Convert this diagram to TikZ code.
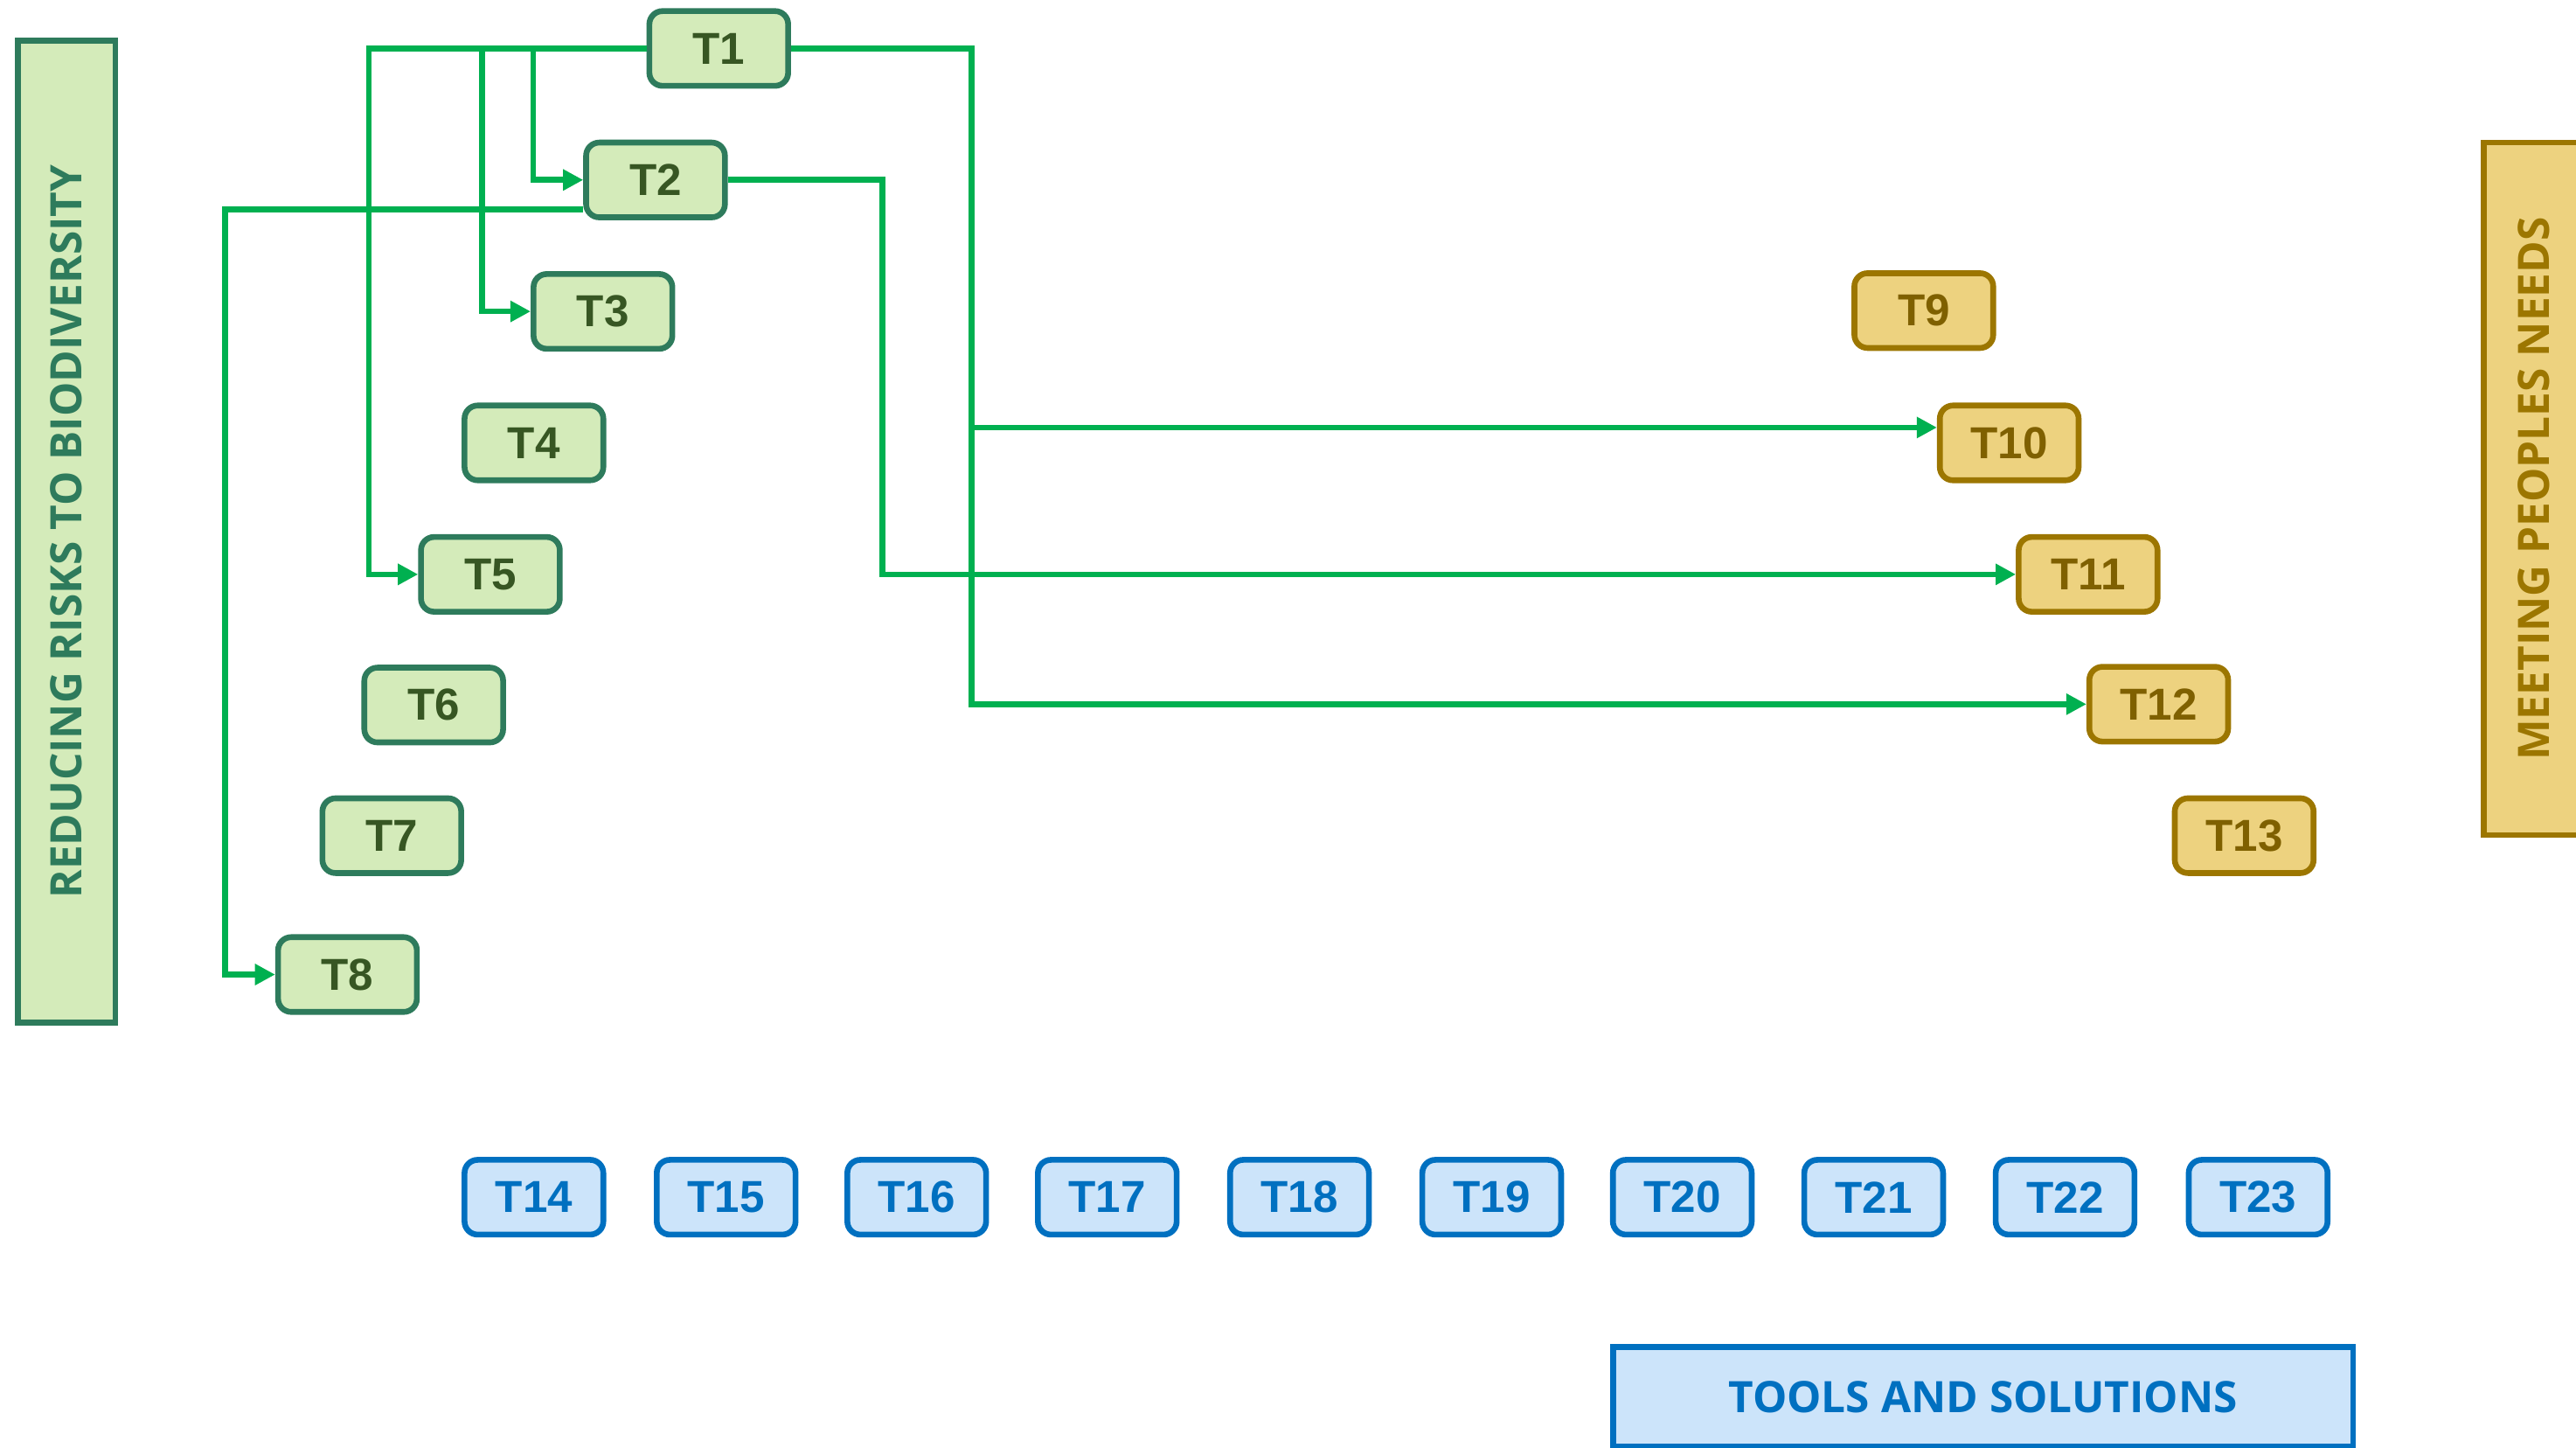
\documentclass[tikz,border=0pt]{standalone}
\usepackage{fontspec}
\setmainfont{Liberation Sans}
\newfontfamily\barfont{Open Sans}
\usetikzlibrary{arrows.meta}

\definecolor{gfill}{HTML}{D4EBBA}
\definecolor{gline}{HTML}{2E7B5C}
\definecolor{gtext}{HTML}{375623}
\definecolor{yfill}{HTML}{EDD27F}
\definecolor{yline}{HTML}{9C7600}
\definecolor{ytext}{HTML}{7F6000}
\definecolor{bfill}{HTML}{CCE4FA}
\definecolor{bline}{HTML}{0070C0}
\definecolor{linkgreen}{HTML}{00B050}

\begin{document}
\begin{tikzpicture}[x=0.02cm,y=-0.02cm,>={Triangle[length=7pt,width=7pt]},
	every node/.style={shape=rectangle,draw,line width=2pt,font=\fontsize{15.5}{18}\selectfont\bfseries},
	target/.style={rounded corners=0.16cm,minimum width=1.69cm,minimum height=0.91cm,inner sep=0pt},
	riskbox/.style={target,fill=gfill,draw=gline,text=gtext},
	needbox/.style={target,fill=yfill,draw=yline,text=ytext},
	toolbox/.style={target,fill=bfill,draw=bline,text=bline},
	theme/.style={font=\barfont\fontsize{15}{18}\selectfont\bfseries,inner sep=0pt},
	link/.style={->,draw=linkgreen,line width=2pt},]
	\useasboundingbox (0,0) rectangle (1568,881);

	% create the nodes
	\node (risks)[theme, rotate=90, fill=gfill, draw=gline, text=gline, minimum width=11.95cm, minimum height=1.19cm] at (40.5,323.5) {REDUCING RISKS TO BIODIVERSITY};
	\node (needs)[theme, rotate=90, fill=yfill, draw=yline, text=yline, minimum width=8.43cm, minimum height=1.23cm] at (1542.5,297.5) {MEETING PEOPLES NEEDS};
	\node (tools)[theme, fill=bfill, draw=bline, text=bline, minimum width=9.01cm, minimum height=1.21cm] at (1207,850) {TOOLS AND SOLUTIONS};

	\node (t1)[riskbox] at (437.5,29.5) {T1};
	\node (t2)[riskbox] at (399,109.5) {T2};
	\node (t3)[riskbox] at (367,189.5) {T3};
	\node (t4)[riskbox] at (325,269.5) {T4};
	\node (t5)[riskbox] at (298.5,349.5) {T5};
	\node (t6)[riskbox] at (264,429) {T6};
	\node (t7)[riskbox] at (238.5,508.5) {T7};
	\node (t8)[riskbox] at (211.5,593) {T8};

	\node (t9)[needbox] at (1171,189) {T9};
	\node (t10)[needbox] at (1223,269.5) {T10};
	\node (t11)[needbox] at (1271,349.5) {T11};
	\node (t12)[needbox] at (1314,428.5) {T12};
	\node (t13)[needbox] at (1366,508.5) {T13};

	\node (t14)[toolbox] at (325,728.5) {T14};
	\node (t15)[toolbox] at (442,728.5) {T15};
	\node (t16)[toolbox] at (558,728.5) {T16};
	\node (t17)[toolbox] at (674,728.5) {T17};
	\node (t18)[toolbox] at (791,728.5) {T18};
	\node (t19)[toolbox] at (908,728.5) {T19};
	\node (t20)[toolbox] at (1024,728.5) {T20};
	\node (t21)[toolbox] at (1140.5,728.5) {T21};
	\node (t22)[toolbox] at (1257,728.5) {T22};
	\node (t23)[toolbox] at (1374.5,728.5) {T23};

	% connect the nodes
	\draw[link] (t1.west) -- ++(-69,0) |- (t2.west);
	\draw[link] (t1.west) -- ++(-100,0) |- (t3.west);
	\draw[link] (t1.west) -- ++(-169,0) |- (t5.west);
	\draw[link] (t1.east) -- ++(110,0) |- (t10.168);
	\draw[link] (t1.east) -- ++(110,0) |- (t12.west);
	\draw[link] (t2.east) -- ++(94,0) |- (t11.west);
	\draw[link] (t2.202) -- ++(-218,0) |- (t8.west);

\end{tikzpicture}
\end{document}
